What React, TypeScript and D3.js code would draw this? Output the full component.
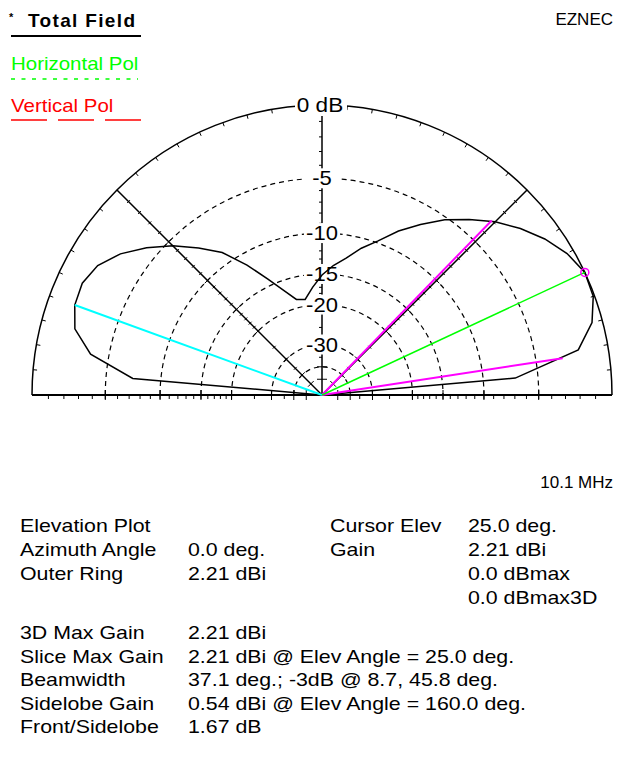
import * as React from 'react'
import * as d3 from 'd3'

// elevation pattern, 5 deg steps, gain in dBi
const elevAngles = [0, 5, 10, 15, 20, 25, 30, 35, 40, 45, 50, 55, 60, 65, 70, 75, 80, 85, 90,
    95, 100, 105, 110, 115, 120, 125, 130, 135, 140, 145, 150, 155, 160, 165, 170, 175, 180]
const totalGain = [-99.99, -4.69, 0.35, 1.58, 2.13, 2.21, 1.79, 1.11, 0.27, -0.69, -1.84, -3.01, -4.43,
    -5.88, -7.57, -8.88, -10.41, -11.56, -12.93, -14.74, -16.59, -16.24, -14.27, -11.83, -9.10,
    -6.56, -4.87, -3.25, -1.84, -0.61, 0.27, 0.63, 0.54, 0.06, -1.40, -5.05, -99.99]

const outerRing = 2.21
const ringLevels = [-5, -10, -15, -20, -30, -40]
const ringLabels = ['-5', '-10', '-15', '-20', '-30']
const axisTicks = [-1, -2, -3, -4, -6, -7, -8, -9, -11, -12, -13, -14, -16, -17, -18, -19, -25, -35]
const crossTicks = [-5, -10, -15, -20, -30, -40, -50]

const cursorAngle = 25
const cursorGain = 2.21
const beamAngles = [8.7, 45.8]
const beamGain = [-0.79, -0.79]
const sideAngle = 160
const sideGain = 0.54

const legend = [
    { label: 'Total Field', color: '#000' },
    { label: 'Horizontal Pol', color: '#00ff00' },
    { label: 'Vertical Pol', color: '#ff0000' },
]

const infoRows: [string, string, string, string][] = [
    ['Elevation Plot', '', 'Cursor Elev', '25.0 deg.'],
    ['Azimuth Angle', '0.0 deg.', 'Gain', '2.21 dBi'],
    ['Outer Ring', '2.21 dBi', '', '0.0 dBmax'],
    ['', '', '', '0.0 dBmax3D'],
]
const infoRows2: [string, string][] = [
    ['3D Max Gain', '2.21 dBi'],
    ['Slice Max Gain', '2.21 dBi @ Elev Angle = 25.0 deg.'],
    ['Beamwidth', '37.1 deg.; -3dB @ 8.7, 45.8 deg.'],
    ['Sidelobe Gain', '0.54 dBi @ Elev Angle = 160.0 deg.'],
    ['Front/Sidelobe', '1.67 dB'],
]

const W = 621
const H = 762
const cx = 322
const cy = 395
const R = 290
const font = 'Liberation Sans, Arial, sans-serif'

// ARRL log scale: radius goes as 0.89^(-dB/2)
const rScale = d3.scaleLinear().domain([0, 1]).range([0, R])
const rel = (db: number) => rScale(Math.pow(0.89, -db / 2))
const rOf = (dbi: number) => rel(dbi - outerRing)
const aScale = d3.scaleLinear().domain([0, 180]).range([Math.PI / 2, -Math.PI / 2])

const pt = (deg: number, r: number): [number, number] => {
    const a = aScale(deg)
    return [r * Math.sin(a), -r * Math.cos(a)]
}

const semi = (r: number) => {
    const p = d3.path()
    p.moveTo(-r, 0)
    p.arc(0, 0, r, Math.PI, 2 * Math.PI)
    return p.toString()
}

// wide windows font -> stretch liberation sans a bit
const Txt = (p: { x: number, y: number, sx?: number, children: any, [k: string]: any }) => {
    const { x, y, sx = 1.22, children, ...rest } = p
    return <text transform={`translate(${x},${y}) scale(${sx},1)`} {...rest}>{children}</text>
}

export default function App() {
    const patternLine = d3.lineRadial<number>()
        .angle((d, i) => aScale(elevAngles[i]))
        .radius(d => rOf(d))
    const pattern = patternLine(totalGain) || ''

    const ringTicks = d3.range(0, 181, 5)
    const baseTicks = d3.range(-1, -21, -1).concat([-25, -35])

    const diag = [45, 135]

    return <svg width={W} height={H} style={{ position: 'absolute', left: 0, top: 0, background: '#fff' }}
        fontFamily={font}>
        <rect width={W} height={H} fill='#fff' />

        {/* legend */}
        <text x={9} y={21} fontSize={11} fontWeight='bold'>*</text>
        <text x={28} y={27} fontSize={19} fontWeight='bold' textLength={107}>{legend[0].label}</text>
        {legend.slice(1).map((d, i) => <Txt key={d.label} x={11} y={69.5 + i * 42.5} sx={1.17}
            fontSize={17.5} fill={d.color}>{d.label}</Txt>)}
        <line x1={11} x2={141} y1={36} y2={36} stroke='#000' strokeWidth={2} />
        <line x1={11} x2={138} y1={79} y2={79} stroke='#00ff00' strokeWidth={1.5} strokeDasharray='4,6.5' />
        <line x1={11} x2={141} y1={120} y2={120} stroke='#ff0000' strokeWidth={1.5} strokeDasharray='36,11' />
        <text x={613} y={25} fontSize={17} textAnchor='end'>EZNEC</text>

        <g transform={`translate(${cx},${cy})`}>
            {/* dashed dB rings */}
            {ringLevels.map(l => <path key={l} d={semi(rel(l))} fill='none' stroke='#000'
                strokeWidth={1.2} strokeDasharray='5,4' />)}
            {/* outer ring */}
            <path d={semi(R)} fill='none' stroke='#000' strokeWidth={1.5} />
            {ringTicks.map(a => {
                const [x1, y1] = pt(a, R)
                const [x2, y2] = pt(a, R - 4)
                return <line key={a} x1={x1} y1={y1} x2={x2} y2={y2} stroke='#000' />
            })}
            {/* baseline */}
            <line x1={-R} x2={R} y1={0} y2={0} stroke='#000' strokeWidth={2} />
            {baseTicks.map(t => [-1, 1].map(s => <line key={t + '_' + s} x1={s * rel(t)} x2={s * rel(t)}
                y1={0} y2={4} stroke='#000' />))}
            {crossTicks.map(t => [-1, 1].map(s => <line key={t + 'c' + s} x1={s * rel(t)} x2={s * rel(t)}
                y1={-5} y2={5} stroke='#000' />))}
            {/* vertical axis */}
            <line x1={0} x2={0} y1={0} y2={-R} stroke='#000' strokeWidth={1.5} />
            {axisTicks.map(t => <line key={t} x1={-3} x2={0} y1={-rel(t)} y2={-rel(t)} stroke='#000' />)}
            {crossTicks.map(t => <line key={t} x1={-5} x2={5} y1={-rel(t)} y2={-rel(t)} stroke='#000' />)}
            {/* 45 / 135 deg lines */}
            {diag.map(a => {
                const [x, y] = pt(a, R)
                return <g key={a}>
                    <line x1={0} y1={0} x2={x} y2={y} stroke='#000' strokeWidth={1.5} />
                    {crossTicks.map(t => {
                        const [px, py] = pt(a, rel(t))
                        const [dx, dy] = pt(a + 90, 4)
                        return <line key={t} x1={px - dx} y1={py - dy} x2={px + dx} y2={py + dy} stroke='#000' />
                    })}
                    {axisTicks.map(t => {
                        const [px, py] = pt(a, rel(t))
                        const [dx, dy] = pt(a + 90, 2)
                        return <line key={t} x1={px - dx} y1={py - dy} x2={px + dx} y2={py + dy} stroke='#000' />
                    })}
                </g>
            })}
            {/* labels */}
            <rect x={-27} y={-R - 11} width={52} height={22} fill='#fff' />
            <Txt x={-2} y={-R + 7} sx={1.13} fontSize={20} textAnchor='middle'>0 dB</Txt>
            {ringLabels.map((l, i) => <g key={l}>
                <rect x={-18} y={-rel(ringLevels[i]) - 10} width={36} height={20} fill='#fff' />
                <Txt x={0} y={-rel(ringLevels[i]) + 7} sx={1.1} fontSize={20} textAnchor='middle'>{l}</Txt>
            </g>)}

            {/* pattern */}
            <path d={pattern} fill='none' stroke='#000' strokeWidth={1.5} />

            {/* cursor, beamwidth and sidelobe lines */}
            {beamAngles.map((a, i) => {
                const [x, y] = pt(a, rOf(beamGain[i]))
                return <line key={a} x1={0} y1={0} x2={x} y2={y} stroke='#ff00ff' strokeWidth={2} />
            })}
            {(() => {
                const [x, y] = pt(sideAngle, rOf(sideGain))
                return <line x1={0} y1={0} x2={x} y2={y} stroke='#00ffff' strokeWidth={2} />
            })()}
            {(() => {
                const [x, y] = pt(cursorAngle, rOf(cursorGain))
                return <g>
                    <line x1={0} y1={0} x2={x} y2={y} stroke='#00ff00' strokeWidth={1.5} />
                    <circle cx={x} cy={y} r={4} fill='none' stroke='#ff00ff' strokeWidth={1.5} />
                </g>
            })()}
        </g>

        <text x={613} y={488} fontSize={17} textAnchor='end'>10.1 MHz</text>

        <g fontSize={17.5}>
            {infoRows.map((row, i) => [20, 188, 330, 468].map((x, j) =>
                row[j] ? <Txt key={i + '_' + j} x={x} y={532 + i * 24}>{row[j]}</Txt> : null))}
            {infoRows2.map((row, i) => [20, 188].map((x, j) =>
                <Txt key={'b' + i + '_' + j} x={x} y={639 + i * 23.5}>{row[j]}</Txt>))}
        </g>
    </svg>
}
